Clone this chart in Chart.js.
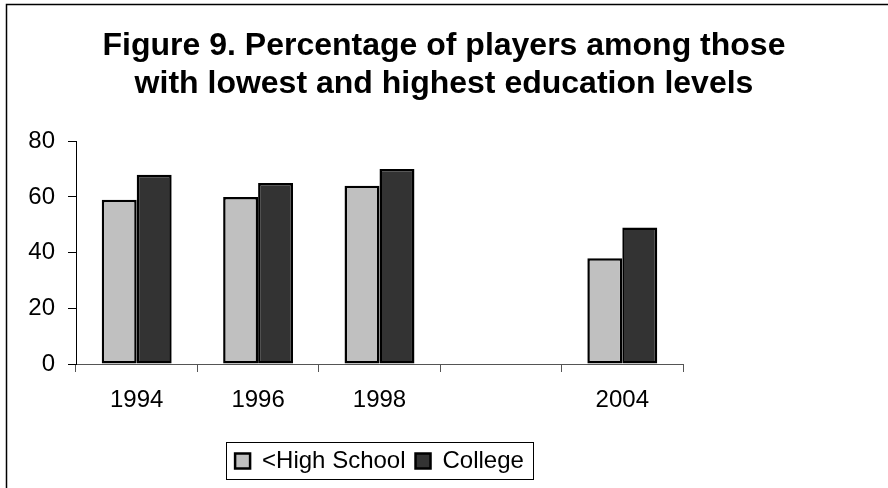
<!DOCTYPE html>
<html>
<head>
<meta charset="utf-8">
<title>Figure 9</title>
<script src="https://cdn.jsdelivr.net/npm/chart.js@4.4.1/dist/chart.umd.min.js"></script>
<style>
  html, body { margin: 0; padding: 0; background: #fff; }
  canvas { display: block; }
</style>
</head>
<body>
<canvas id="barChart" width="888" height="488"></canvas>
<script>
// data
const years = ['1994', '1996', '1998', '', '2004'];
const highSchool = [59, 60, 64, null, 38];
const college = [68, 65, 70, null, 49];
const yTicks = [0, 20, 40, 60, 80];

const FONT = "'Liberation Sans', Arial, sans-serif";

// frame lines + box around the legend
const framePlugin = {
    id: 'frame',
    beforeDraw(chart) {
        const c = chart.ctx;
        c.save();
        c.fillStyle = '#fff';
        c.fillRect(0, 0, chart.width, chart.height);
        c.strokeStyle = '#000';
        c.lineWidth = 1.5;
        c.beginPath();
        c.moveTo(6.5, chart.height);
        c.lineTo(6.5, 4.5);
        c.lineTo(chart.width, 4.5);
        c.stroke();
        c.restore();
    },
    afterDraw(chart) {
        const hb = chart.legend && chart.legend.legendHitBoxes;
        if (!hb || !hb.length) return;
        const first = hb[0], last = hb[hb.length - 1];
        const cy = first.top + first.height / 2;
        const c = chart.ctx;
        c.save();
        c.strokeStyle = '#000';
        c.lineWidth = 1;
        c.strokeRect(Math.round(first.left - 9) + 0.5, Math.round(cy - 19.5) + 0.5,
            Math.round(last.left + last.width - first.left + 18), 37);
        c.restore();
    }
};

document.addEventListener("DOMContentLoaded", () => {
    const ctx = document.getElementById("barChart");
    if (!ctx) return;

    new Chart(ctx, {
        type: 'bar',
        data: {
            labels: years,
            datasets: [{
                label: '<High School',
                data: highSchool,
                backgroundColor: '#c0c0c0',
                borderColor: '#000',
                borderWidth: 2.5,
                borderSkipped: false,
                barPercentage: 1,
                categoryPercentage: 0.576
            }, {
                label: 'College',
                data: college,
                backgroundColor: '#333333',
                borderColor: '#000',
                borderWidth: 2.5,
                borderSkipped: false,
                barPercentage: 1,
                categoryPercentage: 0.576
            }]
        },
        options: {
            responsive: false,
            animation: false,
            layout: { padding: { left: 0, right: 0, top: 0, bottom: 5 } },
            plugins: {
                title: {
                    display: true,
                    text: ['Figure 9. Percentage of players among those', 'with lowest and highest education levels'],
                    color: '#000',
                    font: { family: FONT, size: 32, weight: 'bold', lineHeight: 1.16 },
                    padding: { top: 28, bottom: 39 }
                },
                legend: {
                    position: 'bottom',
                    fullSize: false,
                    labels: {
                        color: '#000',
                        font: { family: FONT, size: 24 },
                        boxWidth: 15,
                        boxHeight: 15,
                        padding: 10
                    }
                },
                tooltip: { enabled: false }
            },
            scales: {
                x: {
                    grid: { drawOnChartArea: false, drawTicks: true, tickLength: 8, color: '#555', offset: true },
                    border: { display: true, color: '#555' },
                    ticks: { color: '#000', font: { family: FONT, size: 24 }, padding: 14, maxRotation: 0 },
                    afterFit: s => { s.height = 75; }
                },
                y: {
                    min: 0,
                    max: 80,
                    afterBuildTicks: s => { s.ticks = yTicks.map(v => ({ value: v })); },
                    grid: { drawOnChartArea: false, drawTicks: true, tickLength: 8, color: '#000' },
                    border: { display: true, color: '#000' },
                    ticks: { color: '#000', font: { family: FONT, size: 24 }, padding: 13 },
                    afterFit: s => { s.width = 76; }
                },
                yR: {
                    type: 'linear',
                    position: 'right',
                    display: true,
                    grid: { display: false },
                    border: { display: false },
                    ticks: { display: false },
                    afterFit: s => { s.width = 205; }
                }
            }
        },
        plugins: [framePlugin]
    });
});
</script>
</body>
</html>
